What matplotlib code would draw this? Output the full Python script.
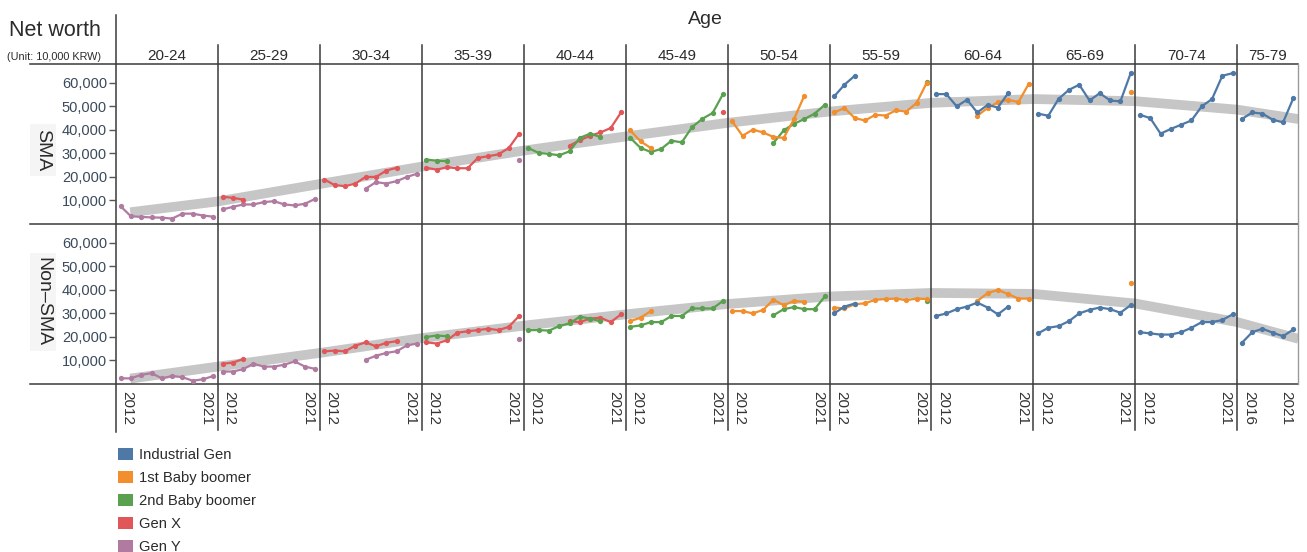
import matplotlib
matplotlib.use("Agg")
import matplotlib.pyplot as plt
from matplotlib.lines import Line2D
from matplotlib.patches import Patch
from matplotlib.ticker import FuncFormatter

plt.rcParams['font.family'] = ['Liberation Sans', 'DejaVu Sans']

# ---------------------------------------------------------------- data
AGE_GROUPS = ["20-24", "25-29", "30-34", "35-39", "40-44", "45-49",
              "50-54", "55-59", "60-64", "65-69", "70-74", "75-79"]
FIRST_YEAR = [2012] * 11 + [2016]
LAST_YEAR = 2021
ROWS = ["SMA", "Non\u2013SMA"]
Y_TICKS = [10000, 20000, 30000, 40000, 50000, 60000]

COHORTS = ["Industrial Gen", "1st Baby boomer", "2nd Baby boomer", "Gen X", "Gen Y"]
COLORS = {"Industrial Gen": "#4e79a7", "1st Baby boomer": "#f28e2b",
          "2nd Baby boomer": "#59a14f", "Gen X": "#e15759", "Gen Y": "#b07aa1"}

# net worth (10,000 KRW) per age group: (first survey year, yearly values)
industrial_sma = {
    "55-59": (2012, [54200, 59200, 63000]),
    "60-64": (2012, [55200, 55200, 50000, 52800, 47400, 50600, 49500, 55600]),
    "65-69": (2012, [46900, 46000, 53200, 57000, 59200, 52500, 55600, 52500, 52100, 64100]),
    "70-74": (2012, [46400, 45000, 38400, 40400, 42200, 44000, 50000, 53100, 63000, 64100]),
    "75-79": (2016, [44600, 47400, 46900, 44300, 43200, 53500]),
}
boomer1_sma = {
    "45-49": (2012, [39800, 35100, 32300]),
    "50-54": (2012, [43600, 37500, 40100, 38900, 37000, 36600, 44600, 54500]),
    "55-59": (2012, [47400, 49300, 45000, 44000, 46400, 46100, 48300, 47800, 51400, 60100]),
    "60-64": (2016, [46000, 49300, 51700, 52800, 51800, 59600]),
    "65-69": (2021, [56300]),
}
boomer2_sma = {
    "35-39": (2012, [27400, 26900, 26700]),
    "40-44": (2012, [32300, 30200, 29800, 29200, 30900, 36600, 38400, 37000]),
    "45-49": (2012, [36600, 32300, 30600, 31900, 35400, 34700, 41200, 44700, 47200, 55200]),
    "50-54": (2016, [34400, 39800, 42600, 44600, 46900, 50700]),
    "55-59": (2021, [60200]),
}
genx_sma = {
    "25-29": (2012, [11600, 11100, 10400]),
    "30-34": (2012, [18900, 16500, 16100, 17200, 20000, 20000, 22700, 23900]),
    "35-39": (2012, [23900, 23100, 24100, 23700, 23700, 28100, 28800, 29600, 32300, 38400]),
    "40-44": (2016, [33300, 35600, 37500, 38900, 40800, 47400]),
    "45-49": (2021, [47800]),
}
geny_sma = {
    "20-24": (2012, [7500, 3300, 3000, 2800, 2700, 2300, 4400, 4400, 3600, 3100]),
    "25-29": (2012, [6200, 7300, 8300, 8300, 9300, 9700, 8300, 7900, 8600, 10700]),
    "30-34": (2016, [15000, 17800, 17200, 18200, 20000, 21400]),
    "35-39": (2021, [27400]),
}

industrial_non = {
    "55-59": (2012, [30000, 32900, 34200]),
    "60-64": (2012, [28900, 30000, 31800, 32900, 34600, 32500, 29600, 32900]),
    "65-69": (2012, [21500, 23900, 24600, 26700, 30000, 31500, 32500, 31800, 30300, 33500]),
    "70-74": (2012, [22000, 21500, 21000, 21000, 22000, 23900, 26300, 26300, 27200, 29600]),
    "75-79": (2016, [17500, 22000, 23500, 21800, 20300, 23200]),
}
boomer1_non = {
    "45-49": (2012, [26700, 28200, 31000]),
    "50-54": (2012, [31000, 31000, 30000, 31500, 35800, 33500, 35300, 34900]),
    "55-59": (2012, [32500, 32100, 33900, 34300, 35800, 36100, 36300, 35600, 36300, 36100]),
    "60-64": (2016, [35300, 38600, 40000, 38200, 36300, 36300]),
    "65-69": (2021, [42900]),
}
boomer2_non = {
    "35-39": (2012, [20000, 20600, 20300]),
    "40-44": (2012, [22900, 22900, 22700, 24600, 25800, 28600, 27800, 26700]),
    "45-49": (2012, [24300, 24900, 26300, 26300, 28900, 28900, 32100, 32100, 32100, 35300]),
    "50-54": (2016, [29200, 31800, 32700, 31800, 31800, 37200]),
    "55-59": (2021, [35400]),
}
genx_non = {
    "25-29": (2012, [8600, 9100, 10600]),
    "30-34": (2012, [13900, 14200, 13900, 16300, 17700, 16000, 17500, 18200]),
    "35-39": (2012, [17700, 17200, 18600, 21800, 22400, 22900, 23500, 22900, 24300, 28900]),
    "40-44": (2016, [26700, 26300, 27800, 28200, 26300, 29600]),
}
geny_non = {
    "20-24": (2012, [2400, 2400, 3900, 4600, 2400, 3400, 2900, 1400, 2000, 3400]),
    "25-29": (2012, [5300, 5300, 6300, 8600, 7400, 7400, 8200, 9600, 7400, 6400]),
    "30-34": (2016, [10300, 12000, 13200, 13900, 16400, 17200]),
    "35-39": (2021, [19200]),
}

# smoothed life-cycle trend, sampled along the age axis (panel units)
trend_pos = [0.14, 1, 2, 3, 4, 5, 6, 7, 8, 9, 10, 11, 11.6]
trend_sma = [5000, 9600, 17000, 24400, 31200, 37200, 43000, 47800, 51500,
             53100, 52200, 48600, 44600]
trend_non = [2300, 7400, 13200, 19500, 24800, 29600, 34000, 37200, 38700,
             38300, 34200, 26300, 19200]

SERIES = [
    {"Gen Y": geny_sma, "Gen X": genx_sma, "2nd Baby boomer": boomer2_sma,
     "1st Baby boomer": boomer1_sma, "Industrial Gen": industrial_sma},
    {"Gen Y": geny_non, "Gen X": genx_non, "2nd Baby boomer": boomer2_non,
     "1st Baby boomer": boomer1_non, "Industrial Gen": industrial_non},
]
TRENDS = [trend_sma, trend_non]

# ---------------------------------------------------------------- layout
W, H = 1307, 552
fig = plt.figure(figsize=(W / 100, H / 100), dpi=100)

L_PX, R_PX = 116, 1298
TOP_PX, MID_PX, BOT_PX = 64, 224, 384
PAD = 0.45
YMAX = 68000
widths = [LAST_YEAR - f + 2 * PAD for f in FIRST_YEAR]

LINE_C = "#3a3a3a"
TICK_C = "#3b4a5c"
TEXT_C = "#2b2b2b"


def fx(px):
    return px / W


def fy(py):
    return 1 - py / H


gs = fig.add_gridspec(2, len(AGE_GROUPS), left=fx(L_PX), right=fx(R_PX),
                      top=fy(TOP_PX), bottom=fy(BOT_PX), wspace=0, hspace=0,
                      width_ratios=widths)

row_tops = [TOP_PX, MID_PX]
row_bots = [MID_PX, BOT_PX]
trend_span = sum(widths) / widths[0]

axes = [[None] * len(AGE_GROUPS) for _ in ROWS]
for r in range(len(ROWS)):
    # trend band lives on an overlay spanning the whole row, under the panels
    ax_t = fig.add_axes([fx(L_PX), fy(row_bots[r]), fx(R_PX) - fx(L_PX),
                         fy(row_tops[r]) - fy(row_bots[r])], zorder=1)
    ax_t.plot(trend_pos, TRENDS[r], color="#c6c6c6", lw=7,
              solid_capstyle="butt", solid_joinstyle="round")
    ax_t.set_xlim(0, trend_span)
    ax_t.set_ylim(0, YMAX)
    ax_t.axis("off")

    for i, grp in enumerate(AGE_GROUPS):
        ax = fig.add_subplot(gs[r, i])
        ax.set_zorder(2)
        ax.patch.set_alpha(0)
        axes[r][i] = ax
        for name in ["Gen Y", "Gen X", "2nd Baby boomer", "1st Baby boomer", "Industrial Gen"]:
            data = SERIES[r][name]
            if grp not in data:
                continue
            start, vals = data[grp]
            yrs = list(range(start, start + len(vals)))
            ax.plot(yrs, vals, color=COLORS[name], lw=1.6, marker="o",
                    markersize=3.8, markeredgewidth=0, solid_capstyle="round")
        ax.set_xlim(FIRST_YEAR[i] - PAD, LAST_YEAR + PAD)
        ax.set_ylim(0, YMAX)
        for s in ax.spines.values():
            s.set_visible(False)
        if r == 1:
            ax.set_xticks([FIRST_YEAR[i], LAST_YEAR])
            labs = ax.set_xticklabels([str(FIRST_YEAR[i]), str(LAST_YEAR)],
                                      rotation=-90, fontsize=11, color="#333333")
            labs[0].set_ha("left")
            labs[1].set_ha("right")
            ax.tick_params(axis="x", length=0, pad=5)
        else:
            ax.set_xticks([])
        if i == 0:
            ax.set_yticks(Y_TICKS)
            ax.yaxis.set_major_formatter(FuncFormatter(lambda v, p: f"{int(v):,}"))
            ax.tick_params(axis="y", length=5, width=1, color="#555555",
                           labelsize=10.5, labelcolor=TICK_C, pad=1.5)
        else:
            ax.set_yticks([])


def hline(y, x0, x1, color=LINE_C, lw=1.1):
    fig.add_artist(Line2D([fx(x0), fx(x1)], [fy(y), fy(y)], color=color, lw=lw,
                          transform=fig.transFigure))


def vline(x, y0, y1, color=LINE_C, lw=1.1):
    fig.add_artist(Line2D([fx(x), fx(x)], [fy(y0), fy(y1)], color=color, lw=lw,
                          transform=fig.transFigure))


for y in (TOP_PX, MID_PX, BOT_PX):
    hline(y, 30, R_PX)

for i, ax in enumerate(axes[0]):
    pos = ax.get_position()
    x_left = pos.x0 * W
    vline(x_left, 15 if i == 0 else 45, 432 if i == 0 else 430)
    fig.text(fx((pos.x0 + pos.x1) / 2 * W), fy(56), AGE_GROUPS[i], ha="center",
             va="center", fontsize=11, color=TEXT_C)
vline(R_PX, TOP_PX, BOT_PX, color="#9a9a9a", lw=1.0)

fig.text(fx(705), fy(20), "Age", ha="center", va="center", fontsize=14, color=TEXT_C)
fig.text(fx(9), fy(30), "Net worth", ha="left", va="center", fontsize=15.5, color=TEXT_C)
fig.text(fx(7), fy(57), "(Unit: 10,000 KRW)", ha="left", va="center", fontsize=7.8,
         color=TEXT_C)
for label, yc in zip(ROWS, (150, 302)):
    fig.text(fx(43), fy(yc), label, ha="center", va="center", rotation=-90,
             fontsize=14, color=TEXT_C,
             bbox=dict(boxstyle="square,pad=0.25", fc="#f5f5f5", ec="none"))

handles = [Patch(facecolor=COLORS[c], edgecolor="none", label=c) for c in COHORTS]
fig.legend(handles=handles, loc="upper left", bbox_to_anchor=(fx(118), fy(448)),
           frameon=False, fontsize=10.6, handlelength=1.0, handleheight=0.9,
           handletextpad=0.45, labelspacing=0.6, borderaxespad=0, borderpad=0,
           labelcolor=TEXT_C)

fig.savefig("out.png", dpi=100, facecolor="white")
